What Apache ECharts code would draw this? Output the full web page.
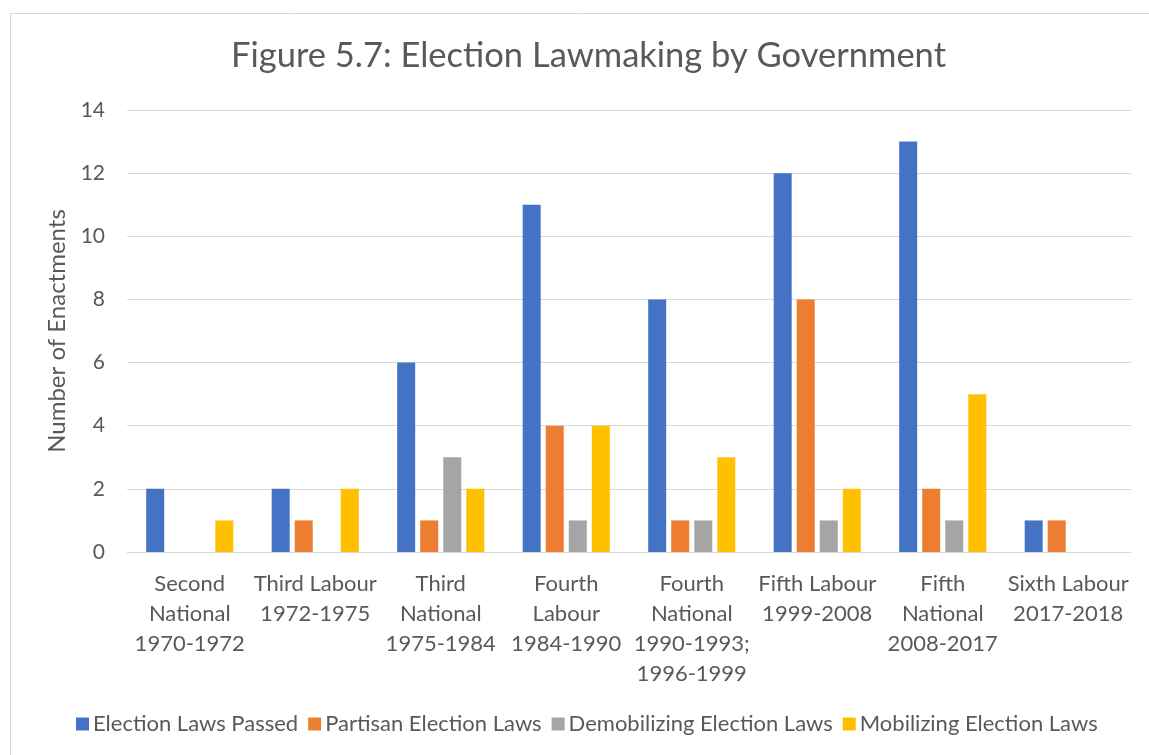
<!DOCTYPE html>
<html>
<head>
<meta charset="utf-8">
<script src="https://cdn.jsdelivr.net/npm/echarts@6/dist/echarts.min.js"></script>
<style>html,body{margin:0;padding:0;background:#fff}#c{width:1149px;height:755px}</style>
</head>
<body>
<div id="c"></div>
<script>
const categories = [
  "Second\nNational\n1970-1972",
  "Third Labour\n1972-1975",
  "Third\nNational\n1975-1984",
  "Fourth\nLabour\n1984-1990",
  "Fourth\nNational\n1990-1993;\n1996-1999",
  "Fifth Labour\n1999-2008",
  "Fifth\nNational\n2008-2017",
  "Sixth Labour\n2017-2018"
];
const seriesNames = ["Election Laws Passed", "Partisan Election Laws", "Demobilizing Election Laws", "Mobilizing Election Laws"];
const electionLawsPassed = [2, 2, 6, 11, 8, 12, 13, 1];
const partisanLaws = [0, 1, 1, 4, 1, 8, 2, 1];
const demobilizingLaws = [0, 0, 3, 1, 1, 1, 1, 0];
const mobilizingLaws = [1, 2, 2, 4, 3, 2, 5, 0];
const yTicks = [0, 2, 4, 6, 8, 10, 12, 14];

const colors = ["#4472C4", "#ED7D31", "#A5A5A5", "#FFC000"];
const seriesData = [electionLawsPassed, partisanLaws, demobilizingLaws, mobilizingLaws];
const font = "Lato, 'Open Sans', sans-serif";
const txt = "#595959";

const chart = echarts.init(document.getElementById('c'));
chart.setOption({
  animation: false,
  backgroundColor: '#fff',
  graphic: [{
    type: 'rect', left: 8, top: 11, shape: { width: 1160, height: 780 },
    style: { fill: 'none', stroke: '#d9d9d9', lineWidth: 1 }, silent: true, z: -1
  }],
  title: {
    text: "Figure 5.7: Election Lawmaking by Government",
    left: 226, top: 33,
    textStyle: { fontFamily: font, fontSize: 34.5, fontWeight: 'normal', color: txt }
  },
  legend: {
    bottom: 15, left: 71,
    itemWidth: 13, itemHeight: 13, itemGap: 10,
    icon: 'rect',
    textStyle: { fontFamily: font, fontSize: 22, color: txt, padding: [0, 0, 0, -1] },
    data: seriesNames
  },
  grid: { left: 127, right: 18, top: 110, bottom: 203 },
  xAxis: {
    type: 'category', data: categories,
    axisLine: { lineStyle: { color: '#d9d9d9', width: 1 } },
    axisTick: { show: false },
    axisLabel: { fontFamily: font, fontSize: 22, color: txt, lineHeight: 30, margin: 17, interval: 0 }
  },
  yAxis: {
    type: 'value', min: 0, max: 14, interval: 2,
    name: "Number of Enactments", nameLocation: 'middle', nameGap: 57,
    nameTextStyle: { fontFamily: font, fontSize: 24, color: txt },
    axisLine: { show: false }, axisTick: { show: false },
    axisLabel: { fontFamily: font, fontSize: 21, color: txt, margin: 22,
      formatter: v => yTicks.includes(v) ? String(v) : '' },
    splitLine: { lineStyle: { color: '#d9d9d9', width: 1 } }
  },
  series: seriesNames.map((n, i) => ({
    name: n, type: 'bar', data: seriesData[i],
    barWidth: 18, barGap: '28%',
    itemStyle: { color: colors[i], borderWidth: 0 }
  }))
});
</script>
</body>
</html>
